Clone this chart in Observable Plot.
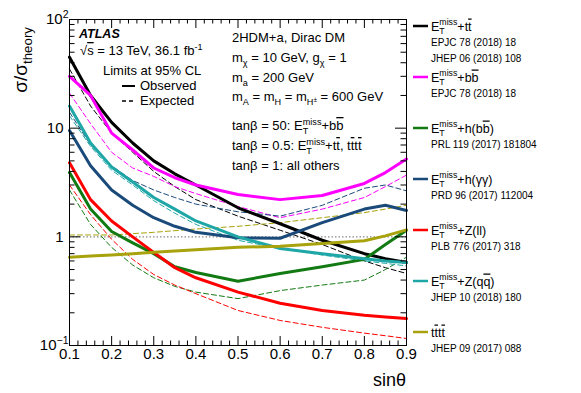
<!DOCTYPE html>
<html><head><meta charset="utf-8">
<script src="https://cdn.jsdelivr.net/npm/d3@7"></script>
<script src="https://cdn.jsdelivr.net/npm/@observablehq/plot@0.6"></script>
<style>
html,body{margin:0;padding:0;background:#fff;}
#chart{width:581px;height:393px;}
</style></head><body><div id="chart"></div>
<script>
// ---- data ----
const sinTheta = [0.1, 0.15, 0.2, 0.25, 0.3, 0.35, 0.4, 0.5, 0.6, 0.7, 0.8, 0.85, 0.9];

const ttObs   = [45, 20, 11.3, 7.3, 5.0, 3.8, 3.0, 1.85, 1.32, 0.93, 0.70, 0.63, 0.58];
const ttExp   = [35, 16, 9.0, 6.0, 4.0, 2.9, 2.2, 1.55, 1.15, 0.85, 0.60, 0.52, 0.46];
const bbObs   = [30, 20, 9.0, 6.3, 4.3, 3.5, 3.0, 2.45, 2.2, 2.4, 3.1, 3.9, 5.2];
const bbExp   = [21, 11, 6.0, 4.3, 3.6, 2.9, 2.5, 1.9, 1.5, 1.8, 2.3, 2.9, 3.7];
const hbbObs  = [3.9, 1.8, 1.12, 0.88, 0.70, 0.53, 0.47, 0.39, 0.46, 0.53, 0.62, 0.85, 1.15];
const hbbExp  = [2.7, 1.3, 0.80, 0.55, 0.42, 0.35, 0.31, 0.27, 0.32, 0.36, 0.40, 0.50, 0.65];
const hggObs  = [9.5, 4.5, 2.7, 1.95, 1.5, 1.25, 1.1, 0.98, 0.97, 1.35, 1.8, 1.95, 1.75];
const hggExp  = [14, 7.0, 4.5, 3.3, 2.7, 2.3, 2.0, 1.7, 1.55, 1.95, 2.8, 3.0, 2.65];
const zllObs  = [4.8, 2.2, 1.4, 1.0, 0.72, 0.52, 0.42, 0.31, 0.245, 0.21, 0.19, 0.183, 0.177];
const zllExp  = [3.0, 1.6, 0.95, 0.62, 0.45, 0.36, 0.30, 0.21, 0.17, 0.147, 0.13, 0.123, 0.116];
const zqqObs  = [16, 7.3, 4.4, 3.2, 2.3, 1.8, 1.4, 1.0, 0.78, 0.70, 0.63, 0.60, 0.58];
const zqqExp  = [13, 6.8, 4.1, 3.0, 2.15, 1.65, 1.3, 0.93, 0.78, 0.68, 0.60, 0.57, 0.54];
const ttttObs = [0.65, 0.665, 0.68, 0.70, 0.72, 0.74, 0.76, 0.80, 0.82, 0.87, 0.92, 1.02, 1.16];
const ttttExp = [1.04, 1.04, 1.04, 1.07, 1.10, 1.14, 1.18, 1.25, 1.35, 1.5, 1.67, 1.8, 1.95];

const seriesColors = ["#000000", "#ff00ff", "#127a12", "#1a4a7a", "#ff0000", "#1fa6a6", "#a8a20c"];
const legendLabels = ["E_{T}^{miss}+t~{t}", "E_{T}^{miss}+b~{b}", "E_{T}^{miss}+h(b~{b})", "E_{T}^{miss}+h(γγ)",
                      "E_{T}^{miss}+Z(ll)", "E_{T}^{miss}+Z(q~{q})", "t~{t}t~{t}"];
const legendRefs = [["EPJC 78 (2018) 18", "JHEP 06 (2018) 108"], ["EPJC 78 (2018) 18"], ["PRL 119 (2017) 181804"],
                    ["PRD 96 (2017) 112004"], ["PLB 776 (2017) 318"], ["JHEP 10 (2018) 180"], ["JHEP 09 (2017) 088"]];

const xTicks = [0.1, 0.2, 0.3, 0.4, 0.5, 0.6, 0.7, 0.8, 0.9];
const xTickLabels = ["0.1", "0.2", "0.3", "0.4", "0.5", "0.6", "0.7", "0.8", "0.9"];
const yTicks = [0.1, 1, 10, 100];
const yTickLabels = ["10^{−1}", "1", "10", "10^{2}"];
const referenceLine = [1];

const obsSeries = [ttObs, bbObs, hbbObs, hggObs, zllObs, zqqObs, ttttObs];
const expSeries = [ttExp, bbExp, hbbExp, hggExp, zllExp, zqqExp, ttttExp];

// ---- layout ----
const W = 581, H = 393, mL = 69, mR = 175, mT = 19, mB = 48;
const innerW = W - mL - mR, innerH = H - mT - mB;

const toRows = arr => arr.map((v, i) => ({x: sinTheta[i], y: v}));
const xMinor = d3.range(0.12, 0.9, 0.02).filter(v => Math.abs(v * 10 - Math.round(v * 10)) > 1e-6);
const yMinor = [0.1, 1, 10].flatMap(d => d3.range(2, 10).map(k => k * d));

const marks = [];
marks.push(Plot.ruleY(referenceLine, {stroke: "#8a8a8a", strokeWidth: 1.3, strokeDasharray: "1.5,2"}));
expSeries.forEach((arr, k) => marks.push(Plot.line(toRows(arr), {x: "x", y: "y", stroke: seriesColors[k], strokeWidth: 1, strokeDasharray: "5,3"})));
obsSeries.forEach((arr, k) => marks.push(Plot.line(toRows(arr), {x: "x", y: "y", stroke: seriesColors[k], strokeWidth: 3})));
marks.push(Plot.frame({stroke: "black", strokeWidth: 1}));
// ticks inside the frame, all four sides
const tX = (vals, len) => [
  Plot.tickX(vals, {x: d => d, stroke: "black", insetTop: innerH - len}),
  Plot.tickX(vals, {x: d => d, stroke: "black", insetBottom: innerH - len})];
const tY = (vals, len) => [
  Plot.tickY(vals, {y: d => d, stroke: "black", insetRight: innerW - len}),
  Plot.tickY(vals, {y: d => d, stroke: "black", insetLeft: innerW - len})];
marks.push(...tX(xTicks, 9), ...tX(xMinor, 4.5), ...tY(yTicks, 11), ...tY(yMinor, 5.5));
// tick labels
marks.push(Plot.text(xTicks.map((v, i) => ({v, label: xTickLabels[i]})),
  {x: "v", text: "label", frameAnchor: "bottom", lineAnchor: "top", dy: 3, fontSize: 15}));
const yRows = yTicks.map((v, i) => ({v, label: yTickLabels[i]}));
marks.push(Plot.text(yRows.filter(d => !d.label.includes("^")),
  {y: "v", text: "label", frameAnchor: "left", textAnchor: "end", dx: -6, fontSize: 15}));
marks.push(Plot.text(yRows.filter(d => d.label.includes("^")),
  {y: "v", text: "label", frameAnchor: "left", textAnchor: "end", dx: -1, fontSize: 15}));

const svg = Plot.plot({
  width: W, height: H, marginLeft: mL, marginRight: mR, marginTop: mT, marginBottom: mB,
  x: {domain: [0.1, 0.9], axis: null},
  y: {type: "log", domain: [0.1, 100], axis: null},
  style: {fontFamily: "'Liberation Sans', Arial, Helvetica, sans-serif", fontSize: "15px", color: "black", background: "white", overflow: "visible"},
  marks
});
document.getElementById("chart").appendChild(svg);

// ---- rich text (sub/superscripts, overline) ----
const NS = "http://www.w3.org/2000/svg";
function richify(t, str) {
  const fs = parseFloat(getComputedStyle(t).fontSize);
  while (t.firstChild) t.removeChild(t.firstChild);
  const parts = str.split(/([_^~%]\{[^}]*\})/).filter(s => s !== "");
  let shift = 0, prevSub = false, lastSubLen = 0;
  for (const p of parts) {
    let kind = "n", txt = p;
    const m = p.match(/^([_^~%])\{(.*)\}$/);
    if (m) { kind = m[1]; txt = m[2]; }
    let target = 0, size = null;
    if (kind === "_") { target = 0.28 * fs; size = 0.7 * fs; }
    else if (kind === "^") { target = -0.42 * fs; size = 0.7 * fs; }
    else if (kind === "%") { target = 0.08 * fs; size = 0.5 * fs; }
    const ts = document.createElementNS(NS, "tspan");
    ts.textContent = txt;
    ts.setAttribute("dy", target - shift);
    shift = target;
    if (size) ts.setAttribute("font-size", size);
    if (kind === "~") { ts.setAttribute("text-decoration", "overline"); ts.style.textDecoration = "overline"; }
    t.appendChild(ts);
    if (kind === "^" && prevSub) ts.setAttribute("dx", -lastSubLen);
    if (kind === "_") { prevSub = true; lastSubLen = ts.getComputedTextLength(); } else prevSub = false;
  }
}
svg.querySelectorAll("text").forEach(t => {
  const s = t.textContent;
  if (/[_^~%]\{/.test(s)) richify(t, s);
});

const root = d3.select(svg);
const ann = root.append("g").attr("font-family", "'Liberation Sans', Arial, Helvetica, sans-serif").attr("fill", "black");
function addText(x, y, str, size, opts = {}) {
  const t = ann.append("text").attr("x", x).attr("y", y).attr("font-size", size)
    .attr("text-anchor", opts.anchor || "start");
  if (opts.weight) t.attr("font-weight", opts.weight);
  if (opts.italic) t.attr("font-style", "italic");
  if (opts.transform) t.attr("transform", opts.transform).attr("x", 0).attr("y", 0);
  richify(t.node(), str);
  return t;
}

// axis titles
addText(0, 0, "σ/σ_{theory}", 19, {anchor: "end", transform: "translate(27,27) rotate(-90)"});
addText(406, 386, "sinθ", 18, {anchor: "end"});

// ATLAS block
addText(79, 38, "ATLAS", 12.5, {weight: "bold", italic: true});
addText(80, 55, "√~{s} = 13 TeV, 36.1 fb^{-1}", 13);
addText(103, 75, "Limits at 95% CL", 13);
ann.append("line").attr("x1", 122).attr("x2", 135).attr("y1", 86).attr("y2", 86).attr("stroke", "black").attr("stroke-width", 2);
addText(140, 90, "Observed", 13);
ann.append("line").attr("x1", 122).attr("x2", 136).attr("y1", 101).attr("y2", 101).attr("stroke", "black").attr("stroke-width", 1.3).attr("stroke-dasharray", "4,3");
addText(140, 105, "Expected", 13);

// model block
const modelLines = [
  ["2HDM+a, Dirac DM", 42], ["m_{χ} = 10 GeV, g_{χ} = 1", 62], ["m_{a} = 200 GeV", 82],
  ["m_{A} = m_{H} = m_{H}%{±} = 600 GeV", 101], ["tanβ = 50: E_{T}^{miss}+b~{b}", 130],
  ["tanβ = 0.5: E_{T}^{miss}+t~{t}, t~{t}t~{t}", 150], ["tanβ = 1: all others", 170]];
modelLines.forEach(([s, y]) => addText(232, y, s, 13));

// right legend
const legendY = [26, 77, 128, 179, 230, 281, 332];
legendLabels.forEach((lab, k) => {
  const y = legendY[k];
  ann.append("line").attr("x1", 413).attr("x2", 428).attr("y1", y).attr("y2", y)
    .attr("stroke", seriesColors[k]).attr("stroke-width", 2.5);
  addText(431, y + 4.5, lab, 12.5);
  legendRefs[k].forEach((r, j) => addText(431, y + 20 + j * 16, r, 10));
});
</script></body></html>
